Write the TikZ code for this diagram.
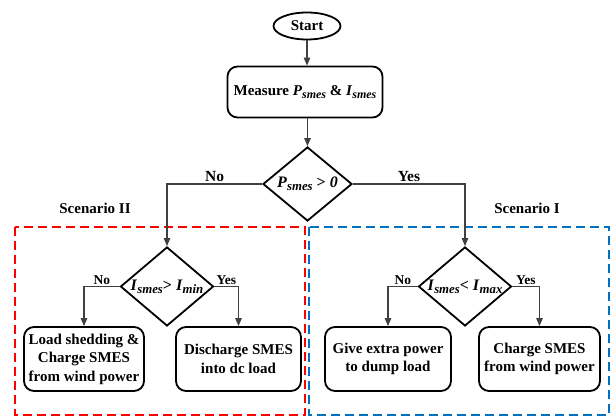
\documentclass[tikz,border=0pt]{standalone}
\usepackage{fontspec}
\usepackage{graphicx}
\setmainfont{Liberation Serif}
\usetikzlibrary{shapes.geometric}
\usetikzlibrary{arrows.meta}
\definecolor{linegray}{HTML}{404040}
\definecolor{scenred}{HTML}{FF0000}
\definecolor{scenblue}{HTML}{0070C0}
\newcommand{\smesvar}[2]{\textit{#1}\raisebox{-0.2em}{\scalebox{0.8}{\textit{#2}}}}
\tikzset{
      terminal/.style={ellipse, draw=black, line width=1.8, minimum width=67, minimum height=27,
            inner sep=0, font=\bfseries\fontsize{15}{17}\selectfont},
      process/.style={rectangle, rounded corners=10, draw=black, line width=1.8, align=center,
            inner sep=0, minimum height=64, font=\bfseries\fontsize{15}{18.5}\selectfont},
      decision/.style={diamond, draw=black, line width=1.8, inner sep=0},
      dtext/.style={font=\bfseries\fontsize{16}{18}\selectfont, inner sep=0},
      flow/.style={draw=linegray, line width=1.2, -{Triangle[length=8pt,width=6.5pt]}},
      toplbl/.style={font=\bfseries\fontsize{15.5}{17}\selectfont, above, inner sep=1.5},
      lbl/.style={font=\bfseries\fontsize{13.5}{15}\selectfont, above, inner sep=1.5},
      scenario/.style={font=\bfseries\fontsize{15}{17}\selectfont},
      region/.style={line width=1.4, dash pattern=on 9pt off 5pt},
}

\begin{document}
\begin{tikzpicture}[x=1pt, y=-1pt]
        \useasboundingbox (0,0) rectangle (613,419);

        % Draw the scenario regions
        \draw[region, draw=scenred] (15,227) rectangle (305,415);
        \draw[region, draw=scenblue] (309,227) rectangle (609,415);
        \node[scenario] (s2) at (95,208) {Scenario II};
        \node[scenario] (s1) at (527,208) {Scenario I};

        % Draw the blocks
        \node[terminal] (start) at (307,26) {Start};
        \node[process, minimum width=155, minimum height=51] (meas) at (305,92)
              {Measure \smesvar{P}{smes} \& \smesvar{I}{smes}};
        \node[decision, minimum width=89, minimum height=74,
              label={[dtext]center:{\smesvar{P}{smes} > \textit{0}}}] (pd) at (307.5,184) {};

        \node[decision, minimum width=93, minimum height=79,
              label={[dtext]center:{\smesvar{I}{smes}> \smesvar{I}{min}}}] (d2) at (167,286.5) {};
        \node[decision, minimum width=93, minimum height=79,
              label={[dtext]center:{\smesvar{I}{smes}< \smesvar{I}{max}}}] (d3) at (465,286.5) {};

        \node[process, minimum width=120] (shed) at (84,359) {Load shedding \&\\Charge SMES\\from wind power};
        \node[process, minimum width=125] (dis) at (238.5,359) {Discharge SMES\\into dc load};
        \node[process, minimum width=126] (dump) at (388,359) {Give extra power\\to dump load};
        \node[process, minimum width=121] (chg) at (539.5,359) {Charge SMES\\from wind power};

        % Draw the connectors
        \draw[flow] (start) -- (start |- meas.north);
        \draw[flow] (pd |- meas.south) -- (pd.north);
        \draw[flow] (pd.west) -| node[toplbl, pos=0.25] {No} (d2.north);
        \draw[flow] (pd.east) -| node[toplbl, pos=0.25] {Yes} (d3.north);

        \draw[flow] (d2.west) -| node[lbl, pos=0.25] {No} (shed.north);
        \draw[flow] (d2.east) -| node[lbl, pos=0.25] {Yes} (dis.north);
        \draw[flow] (d3.west) -| node[lbl, pos=0.25] {No} (dump.north);
        \draw[flow] (d3.east) -| node[lbl, pos=0.25] {Yes} (chg.north);

    \end{tikzpicture}
\end{document}
